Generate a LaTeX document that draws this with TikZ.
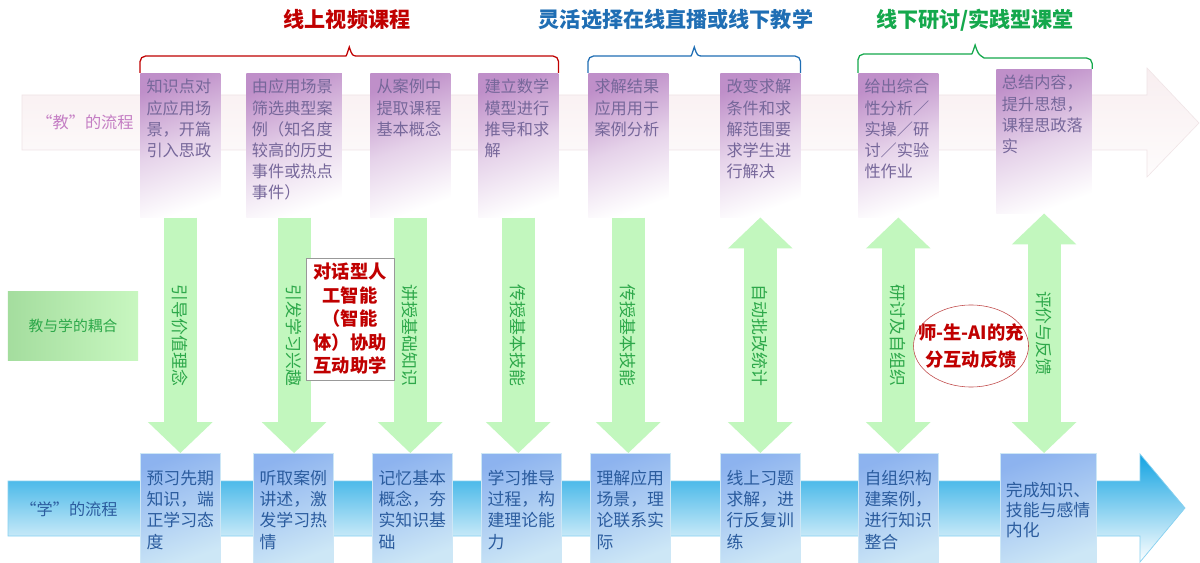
\documentclass[tikz,border=0pt]{standalone}
\usepackage{fontspec}
\setmainfont{Noto Sans CJK SC}
\usetikzlibrary{arrows,arrows.meta,calc,positioning,shapes,shapes.geometric}
\definecolor{tred}{HTML}{C00000}
\definecolor{tblue}{HTML}{1F6EB4}
\definecolor{tgreen}{HTML}{14A84C}
\definecolor{tpurple}{HTML}{BF8FC9}
\definecolor{ttext}{HTML}{76679A}
\definecolor{tlab}{HTML}{C47EC4}
\definecolor{lblue}{HTML}{8DB3EF}
\definecolor{llblue}{HTML}{CDE7F6}
\definecolor{ltext}{HTML}{2B5C9E}
\definecolor{bandtop}{HTML}{F8EEF0}
\definecolor{bandbot}{HTML}{FEFCFC}
\definecolor{bandline}{HTML}{F0E4E6}
\definecolor{sky}{HTML}{12A3E2}
\definecolor{skyline}{HTML}{86D0F0}
\definecolor{cgreen}{HTML}{C2F7BE}
\definecolor{agreen}{HTML}{2DA84A}
\definecolor{cpleft}{HTML}{A4DD9E}
\definecolor{cpright}{HTML}{C8F7C0}
\definecolor{ered}{HTML}{C04848}
\tikzset{
    tbox/.style = {anchor=north west, top color=tpurple, bottom color=white,
        middle color=tpurple!40!white, shading angle=20, minimum width=2cm, text width=48pt,
        inner xsep=4pt, inner ysep=3pt, text height=11pt, text depth=85.4pt,
        align=left, text=ttext, font=\fontsize{11.5}{15}\selectfont},
    lbox/.style = {anchor=north west, top color=lblue, bottom color=llblue,
        shading angle=20, draw=llblue, minimum width=2cm, text width=48pt,
        inner xsep=4pt, inner ysep=3pt, text height=19pt, text depth=53.2pt,
        align=left, text=ltext, font=\fontsize{12}{15.2}\selectfont},
    wide/.style = {minimum width=2.35cm, text width=60pt},
    flow/.style = {font=\fontsize{11.5}{11.5}\selectfont},
    ttl/.style = {font=\bfseries\fontsize{15}{15}\selectfont},
    brc/.style = {draw=#1, line width=0.9pt},
    garrow/.style = {draw=cgreen, line width=23.5pt,
        >={Triangle[width=46pt,length=22pt,line width=0pt]}, ->},
    garrow2/.style = {garrow, <->},
    glabel/.style = {rotate=-90, text=agreen, font=\fontsize{12}{12}\selectfont},
    aibox/.style = {draw=gray!80, fill=white, text=tred, align=center,
        minimum width=2.2cm, minimum height=3.05cm, inner sep=1pt,
        font=\bfseries\fontsize{13}{16.7}\selectfont},
    fbell/.style = {ellipse, draw=ered, fill=white, text=tred, align=center,
        minimum width=2.875cm, minimum height=2.05cm, inner sep=0pt,
        font=\bfseries\fontsize{13}{19}\selectfont},
    cpbox/.style = {left color=cpleft, right color=cpright, text=agreen,
        minimum width=3.25cm, minimum height=1.7cm,
        font=\fontsize{10.5}{10.5}\selectfont}
}

\begin{document}
\begin{tikzpicture}[x=0.025cm, y=-0.025cm]
    \fill [white] (0,0) rectangle (1200,563);
    \useasboundingbox (0,0) rectangle (1200,563);
    \path [top color=bandtop, bottom color=bandbot, draw=bandline, line width=0.4pt]
        (22,95) -- (1147,95) -- (1147,68) -- (1199,123) -- (1147,177) -- (1147,150) -- (22,150) -- cycle;
    \path [top color=sky, bottom color=white, middle color=sky!50!white, draw=skyline, line width=0.5pt]
        (8,481) -- (1140,481) -- (1140,454) -- (1185,508) -- (1140,562) -- (1140,536) -- (8,536) -- cycle;
    \node [flow, text=tlab] (hteach) at (85,122) {“教”的流程};
    \node [flow, text=ltext] (hlearn) at (69,509) {“学”的流程};

    \node [tbox] (t1) at (140,73) {知识点对\\应应用场\\景，开篇\\引入思政};
    \node [tbox, wide] (t2) at (246,73) {由应用场景\\筛选典型案\\例（知名度\\较高的历史\\事件或热点\\事件）};
    \node [tbox] (t3) at (370,73) {从案例中\\提取课程\\基本概念};
    \node [tbox] (t4) at (478,73) {建立数学\\模型进行\\推导和求\\解};
    \node [tbox] (t5) at (588,73) {求解结果\\应用用于\\案例分析};
    \node [tbox] (t6) at (720,73) {改变求解\\条件和求\\解范围要\\求学生进\\行解决};
    \node [tbox] (t7) at (858,73) {给出综合\\性分析／\\实操／研\\讨／实验\\性作业};
    \node [tbox, wide] (t8) at (996,69) {总结内容，\\提升思想，\\课程思政落\\实};

    \node [lbox] (l1) at (140,453) {预习先期\\知识，端\\正学习态\\度};
    \node [lbox] (l2) at (253,453) {听取案例\\讲述，激\\发学习热\\情};
    \node [lbox] (l3) at (372,453) {记忆基本\\概念，夯\\实知识基\\础};
    \node [lbox] (l4) at (481,453) {学习推导\\过程，构\\建理论能\\力};
    \node [lbox] (l5) at (590,453) {理解应用\\场景，理\\论联系实\\际};
    \node [lbox] (l6) at (720,453) {线上习题\\求解，进\\行反复训\\练};
    \node [lbox] (l7) at (858,453) {自组织构\\建案例，\\进行知识\\整合};
    \node [lbox, wide, text height=27.6pt, text depth=44.6pt,
        font=\fontsize{12}{14.2}\selectfont] (l8) at (1000,453) {完成知识、\\技能与感情\\内化};

    \coordinate (bR) at ($(t1.north west)!.5!(t4.north east)$);
    \coordinate (bB) at ($(t5.north west)!.5!(t6.north east)$);
    \coordinate (bG) at ($(t7.north west)!.5!(t8.north east)$);
    \draw [brc=tred] (t1.north west) [rounded corners=4pt] |- ($(bR)+(-9,-17)$) [sharp corners]
        .. controls ($(bR)+(-3,-17)$) .. ($(bR)+(0,-26)$)
        .. controls ($(bR)+(3,-17)$) .. ($(bR)+(9,-17)$) [rounded corners=4pt] -| (t4.north east);
    \draw [brc=tblue] (t5.north west) [rounded corners=4pt] |- ($(bB)+(-9,-17)$) [sharp corners]
        .. controls ($(bB)+(-3,-17)$) .. ($(bB)+(0,-26)$)
        .. controls ($(bB)+(3,-17)$) .. ($(bB)+(9,-17)$) [rounded corners=4pt] -| (t6.north east);
    \draw [brc=tgreen] (t7.north west) [rounded corners=4pt] |- ($(bG)+(-9,-17)$) [sharp corners]
        .. controls ($(bG)+(-3,-17)$) .. ($(bG)+(0,-26)$)
        .. controls ($(bG)+(3,-17)$) .. ($(bG)+(9,-13)$) [rounded corners=4pt] -| (t8.north east);
    \node [ttl, text=tred] (hr) at (347,20) {线上视频课程};
    \node [ttl, text=tblue] (hb) at (676,20) {灵活选择在线直播或线下教学};
    \node [ttl, text=tgreen] (hg) at (975,20) {线下研讨/实践型课堂};

    \draw [garrow] (t1.south) -- (t1.south |- l1.north) node [midway, glabel] {引导价值理念};
    \draw [garrow] (t2.south) -- (t2.south |- l2.north) node [midway, glabel] {引发学习兴趣};
    \draw [garrow] (t3.south) -- (t3.south |- l3.north) node [midway, glabel] {讲授基础知识};
    \draw [garrow] (t4.south) -- (t4.south |- l4.north) node [midway, glabel] {传授基本技能};
    \draw [garrow] (t5.south) -- (t5.south |- l5.north) node [midway, glabel] {传授基本技能};
    \draw [garrow2] (t6.south) -- (t6.south |- l6.north) node [midway, glabel] {自动批改统计};
    \draw [garrow2] (t7.south) -- (t7.south |- l7.north) node [midway, glabel] {研讨及自组织};
    \draw [garrow2] (t8.south) -- (t8.south |- l8.north) node [midway, glabel] {评价与反馈};

    \node [aibox] (ai) at (350,319) {对话型人\\工智能\\（智能\\体）协助\\互动助学};
    \node [fbell] (fb) at (971,346) {\makebox[0pt]{师-生-AI的充}\\\makebox[0pt]{分互动反馈}};
    \node [cpbox] (cp) at (73,326) {教与学的耦合};
\end{tikzpicture}
\end{document}
